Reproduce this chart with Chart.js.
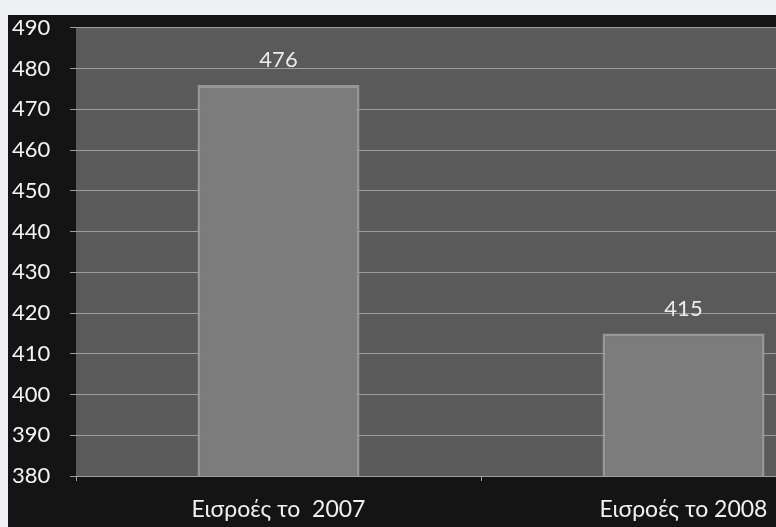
<!DOCTYPE html>
<html>
<head>
<meta charset="utf-8">
<script src="https://cdn.jsdelivr.net/npm/chart.js@4/dist/chart.umd.min.js"></script>
<style>
  html, body { margin: 0; padding: 0; overflow: hidden; background: #eef0f4; width: 776px; height: 527px; }
  #wrap { position: absolute; left: 8px; top: 15px; width: 880px; height: 512px; background: #141414; }
</style>
</head>
<body>
<div id="wrap"><canvas id="chart" width="880" height="512"></canvas></div>
<script>
// values
const categories = ['Εισροές το  2007', 'Εισροές το 2008'];
const inflows = [476, 415];
const yMin = 380, yMax = 490, yStep = 10;

const FONT = 'Lato, "Open Sans", sans-serif';

// grey plot area behind the bars
const plotBg = {
    id: 'plotBg',
    beforeDraw(chart) {
        const {ctx, chartArea: a} = chart;
        ctx.save();
        ctx.fillStyle = '#5a5a5a';
        ctx.fillRect(a.left, a.top, a.right - a.left, a.bottom - a.top);
        ctx.restore();
    }
};

// value labels above each bar
const valueLabels = {
    id: 'valueLabels',
    afterDatasetsDraw(chart) {
        const ctx = chart.ctx;
        const meta = chart.getDatasetMeta(0);
        ctx.save();
        ctx.fillStyle = '#ececec';
        ctx.font = '22px ' + FONT;
        ctx.textAlign = 'center';
        ctx.textBaseline = 'middle';
        meta.data.forEach((bar, i) => {
            ctx.fillText(String(chart.data.datasets[0].data[i]), bar.x, bar.y - 25);
        });
        ctx.restore();
    }
};

new Chart(document.getElementById('chart').getContext('2d'), {
    type: 'bar',
    data: {
        labels: categories,
        datasets: [{
            data: inflows,
            backgroundColor: '#7c7c7c',
            borderColor: '#969696',
            borderWidth: 3,
            borderSkipped: 'bottom',
            barPercentage: 0.4,
            categoryPercentage: 1
        }]
    },
    options: {
        responsive: false,
        animation: false,
        layout: {padding: {top: 0, right: 2, left: 4, bottom: 0}},
        plugins: {legend: {display: false}, tooltip: {enabled: false}},
        scales: {
            x: {
                offset: true,
                border: {color: '#a0a0a0', width: 1},
                grid: {drawOnChartArea: false, drawTicks: true, tickLength: 5, color: '#a0a0a0'},
                ticks: {color: '#f0f0f0', font: {family: FONT, size: 23}, padding: 15},
                afterFit: s => { s.height = 51; }
            },
            y: {
                min: yMin,
                max: yMax,
                border: {display: false},
                grid: {color: '#9c9c9c', lineWidth: 1, tickLength: 6},
                ticks: {
                    stepSize: yStep,
                    color: '#f4f4f4',
                    crossAlign: 'far',
                    font: {family: FONT, size: 22, lineHeight: 0.9}
                },
                afterFit: s => { s.width = 64; }
            }
        }
    },
    plugins: [plotBg, valueLabels]
});
</script>
</body>
</html>
